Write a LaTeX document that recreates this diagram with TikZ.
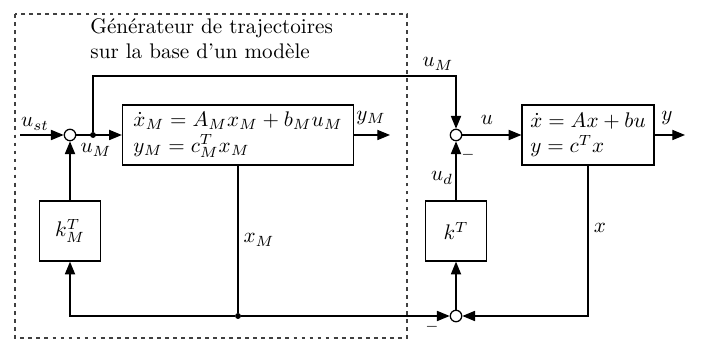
\documentclass[tikz,border=0pt]{standalone}
\usepackage{fontspec}
\usetikzlibrary{arrows.meta}
\tikzset{
  block/.style={draw, line width=0.6pt, align=left, minimum height=28.4pt},
  sumnode/.style={draw, circle, line width=0.6pt, minimum size=5.4pt, inner sep=0pt},
  junc/.style={circle, fill, minimum size=2.8pt, inner sep=0pt},
  sig/.style={line width=0.6pt, -{Triangle[length=6pt,width=4.8pt]}},
  wire/.style={line width=0.6pt},
  gencadre/.style={line width=0.5pt, black!75, dash pattern=on 1.8pt off 2pt},
}
\begin{document}
\begin{tikzpicture}[x=0.473pt,y=-0.473pt]
\useasboundingbox (0,0) rectangle (704,341);
% cadre du generateur de trajectoires
\draw[gencadre] (15,14) rectangle (407,338);
\node[anchor=north west, align=left, inner sep=0pt] (titre) at (90,18) {Générateur de trajectoires\\sur la base d'un modèle};
% blocs
\node[sumnode] (s1) at (70,135) {};
\node[junc] (j1) at (93,135) {};
\node[block, minimum width=109.3pt] (mod) at (238,135) {$\dot x_M = A_M x_M + b_M u_M$\\$y_M = c_M^T x_M$};
\node[sumnode] (s2) at (456,135) {};
\node[block, minimum width=62.4pt] (proc) at (588,135) {$\dot x = Ax + bu$\\$y = c^T x$};
\node[block, minimum width=28.9pt] (kM) at (70,231) {$k_M^T$};
\node[block, minimum width=28.9pt] (k) at (456,231) {$k^T$};
\node[sumnode] (s3) at (456,316) {};
\node[junc] (j2) at (238,316) {};
\coordinate (ust) at (20,135);
\coordinate (ym) at (390,135);
\coordinate (yout) at (685,135);
\coordinate (coin) at (456,76);
% liaisons
\draw[sig] (ust) -- (s1);
\draw[sig] (s1) -- (mod);
\draw[sig] (j1) |- (coin) -- (s2);
\draw[sig] (mod) -- (ym);
\draw[sig] (s2) -- (proc);
\draw[sig] (proc) -- (yout);
\draw[sig] (kM) -- (s1);
\draw[sig] (k) -- (s2);
\draw[wire] (mod) -- (j2);
\draw[sig] (j2) -| (kM);
\draw[sig] (j2) -- (s3);
\draw[sig] (proc) |- (s3);
\draw[sig] (s3) -- (k);
% etiquettes
\node (lust) at (35,124) {$u_{st}$};
\node (luM) at (96,150) {$u_M$};
\node (lxM) at (259,240) {$x_M$};
\node (lyM) at (371,118) {$y_M$};
\node (luMh) at (438,64) {$u_M$};
\node (lu) at (487,120) {$u$};
\node (lmoins1) at (468,155) {$\scriptstyle -$};
\node (lud) at (442,178) {$u_d$};
\node (lx) at (600,228) {$x$};
\node (ly) at (667,118) {$y$};
\node (lmoins2) at (432,327) {$\scriptstyle -$};
\end{tikzpicture}
\end{document}
